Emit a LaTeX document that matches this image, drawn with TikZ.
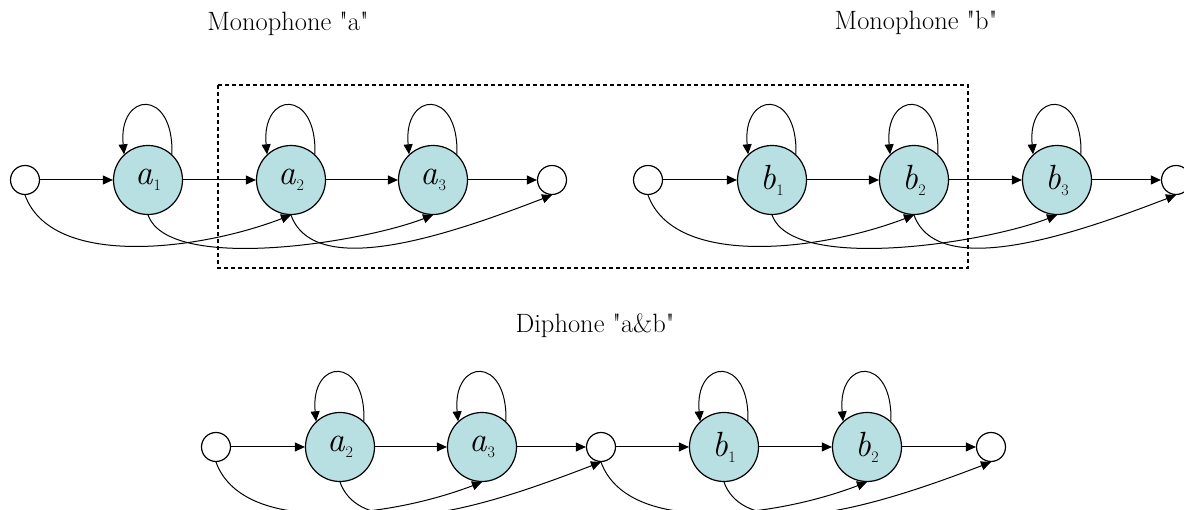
\documentclass[tikz,border=0pt]{standalone}
\usepackage{fontspec}
\usetikzlibrary{arrows.meta}
\definecolor{statefill}{RGB}{184,223,226}
% state label: italic letter with a small, lowered index
\newcommand\statelabel[2]{\textit{#1}\kern0.5pt\raisebox{-6pt}{\fontsize{16}{16}\selectfont #2}}
\newcommand\qq[1]{\textquotedbl#1\textquotedbl}
\begin{document}
\begin{tikzpicture}[x=1pt,y=1pt,
  state/.style={circle,draw,line width=1.2pt,fill=statefill,minimum size=69pt,inner sep=0pt,
    font=\fontsize{35}{35}\selectfont},
  term/.style={circle,draw,line width=1.2pt,fill=white,minimum size=29pt,inner sep=0pt},
  caption/.style={anchor=base,font=\fontsize{26.5}{28}\selectfont},
  arc/.style={line width=1pt,-{Triangle[length=10pt,width=9pt]}},
  groupbox/.style={line width=1.2pt,dash pattern=on 4pt off 3pt}
]
\useasboundingbox (0,0) rectangle (1184,510);
\clip (0,0) rectangle (1184,510);

% captions
\node[caption] (capA) at (288,479) {Monophone \qq{a}};
\node[caption] (capB) at (916,480) {Monophone \qq{b}};
\node[caption] (capD) at (595,177) {Diphone \qq{a\&b}};

% shared context region
\draw[groupbox] (218,425) rectangle (968,242);

% monophone a
\node[term]  (sa) at (25,330) {};
\node[state] (a1) at (148,330) {\statelabel{a}{1}};
\node[state] (a2) at (291,330) {\statelabel{a}{2}};
\node[state] (a3) at (433,330) {\statelabel{a}{3}};
\node[term]  (ea) at (552,330) {};

% monophone b
\node[term]  (sb) at (648,330) {};
\node[state] (b1) at (772,330) {\statelabel{b}{1}};
\node[state] (b2) at (914,330) {\statelabel{b}{2}};
\node[state] (b3) at (1057,330) {\statelabel{b}{3}};
\node[term]  (eb) at (1176,330) {};

% diphone a&b
\node[term]  (sd)  at (216,63) {};
\node[state] (da2) at (340,63) {\statelabel{a}{2}};
\node[state] (da3) at (482,63) {\statelabel{a}{3}};
\node[term]  (md)  at (601,63) {};
\node[state] (db1) at (724,63) {\statelabel{b}{1}};
\node[state] (db2) at (867,63) {\statelabel{b}{2}};
\node[term]  (ed)  at (991,63) {};

% forward transitions
\foreach \u/\v in {sa/a1,a1/a2,a2/a3,a3/ea,sb/b1,b1/b2,b2/b3,b3/eb,
                   sd/da2,da2/da3,da3/md,md/db1,db1/db2,db2/ed}
  \draw[arc] (\u.east) -- (\v.west);

% self loops
\foreach \s in {a1,a2,a3,b1,b2,b3,da2,da3,db1,db2}
  \draw[arc] (\s.47) .. controls +(2,67) and +(-6,63) .. (\s.133);

% skip transitions (source/target/leaving length/arriving length)
\foreach \u/\v/\p/\q in {sa/a2/78/100, a1/a3/61/80, a2/ea/72/100,
                         sb/b2/78/100, b1/b3/61/80, b2/eb/72/100,
                         sd/da3/78/100, da2/md/72/100, md/db2/78/100, db1/ed/72/100}
  \draw[arc] (\u.south) .. controls +(-70:\p) and +(-159:\q) .. (\v.south);
\end{tikzpicture}
\end{document}
